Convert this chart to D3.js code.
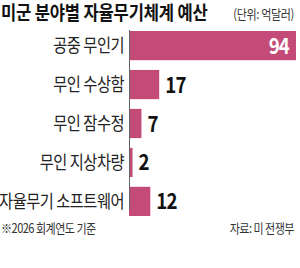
<!DOCTYPE html>
<html>
<head>
<meta charset="utf-8">
<script src="https://cdn.jsdelivr.net/npm/d3@7"></script>
<style>
body { margin: 0; background: #fff; }
svg { display: block; font-family: "Noto Sans CJK KR", sans-serif; }
</style>
</head>
<body>
<div class="container"></div>
<script>
var categories = ["공중 무인기", "무인 수상함", "무인 잠수정", "무인 지상차량", "자율무기 소프트웨어"];
var values = [94, 17, 7, 2, 12];

var W = 300, H = 268;
var LEFT = 129, RIGHT = 296, TOP = 31, BOTTOM = 210;
var COLOR = "#c44b77";
var SQUEEZE = 0.85;

var svg = d3.select(".container").append("svg")
	.attr("width", W)
	.attr("height", H);

var x = d3.scaleLinear().domain([0, 94]).range([LEFT, RIGHT]);
var y = d3.scaleBand().domain(categories).range([TOP, BOTTOM + 6]).paddingInner(0.25).paddingOuter(0);

// condensed text helper
var label = function(px, py, str, anchor){
	return svg.append("text")
		.attr("transform", "translate(" + px + "," + py + ") scale(" + SQUEEZE + ",1)")
		.attr("text-anchor", anchor || "start")
		.text(str);
}

// title
label(1, 20, "미군 분야별 자율무기체계 예산")
	.attr("font-size", 19.5).attr("font-weight", "bold").attr("fill", "#111")
	.attr("letter-spacing", -0.2);
label(294, 19, "(단위: 억달러)", "end")
	.attr("font-size", 13).attr("fill", "#333")
	.attr("letter-spacing", -0.4);

// bars
svg.selectAll("rect.bar").data(values).enter().append("rect")
	.attr("class", "bar")
	.attr("x", x(0))
	.attr("y", function(d, i){ return y(categories[i]); })
	.attr("width", function(d){ return x(d) - x(0); })
	.attr("height", y.bandwidth())
	.attr("fill", COLOR);

// axis line
svg.append("line")
	.attr("x1", x(0) + 0.5).attr("x2", x(0) + 0.5)
	.attr("y1", TOP - 1).attr("y2", BOTTOM)
	.attr("stroke", "#666").attr("stroke-width", 1);

// category labels
categories.forEach(function(c){
	label(LEFT - 5, y(c) + y.bandwidth() / 2 + 6.5, c, "end")
		.attr("font-size", 18).attr("fill", "#222")
		.attr("letter-spacing", -0.6);
});

// value labels
values.forEach(function(d, i){
	var inside = d > 50;
	label(inside ? x(d) - 7 : x(d) + 6, y(categories[i]) + y.bandwidth() / 2 + 8, d, inside ? "end" : "start")
		.attr("font-size", 22).attr("font-weight", "bold")
		.attr("fill", inside ? "#fff" : "#111")
		.attr("letter-spacing", -1);
});

// footer
label(1, 233, "※2026 회계연도 기준")
	.attr("font-size", 13).attr("fill", "#333")
	.attr("letter-spacing", -0.6);
label(294, 233, "자료: 미 전쟁부", "end")
	.attr("font-size", 13).attr("fill", "#333")
	.attr("letter-spacing", -0.6);
</script>
</body>
</html>
